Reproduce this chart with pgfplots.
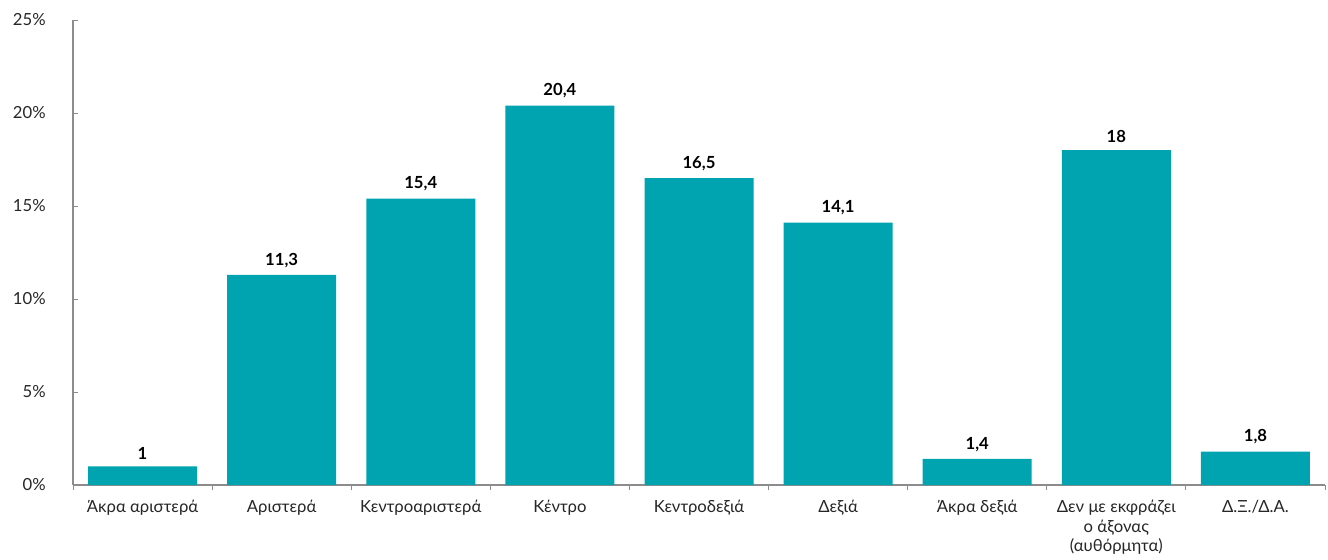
\documentclass[border=0pt]{standalone}
\usepackage{fontspec}
\setmainfont{Lato}
\usepackage{pgfplots}
\pgfplotsset{compat=1.18}
\definecolor{barteal}{HTML}{00A3B0}
\definecolor{axisgrey}{HTML}{8C8C8C}
\begin{document}
\begin{tikzpicture}
\begin{axis}[
    name=ax,
    scale only axis,
    width=939pt, height=348.75pt,
    font=\fontsize{12.5}{14.5}\selectfont,
    ymin=0, ymax=25,
    xmin=-0.5, xmax=8.5,
    ytick={0,5,...,25},
    yticklabel={\pgfmathprintnumber{\tick}\%},
    yticklabel style={xshift=-17pt, text=black!85},
    xtick={0,...,8},
    xticklabels={Άκρα αριστερά, Αριστερά, Κεντροαριστερά, Κέντρο, Κεντροδεξιά, Δεξιά, Άκρα δεξιά, {Δεν με εκφράζει\\ο άξονας\\(αυθόρμητα)}, Δ.Ξ./Δ.Α.},
    xticklabel style={align=center, text=black!85, yshift=-4pt},
    minor xtick={-0.5,0.5,...,8.5},
    major x tick style={draw=none},
    tick style={axisgrey, line width=0.6pt},
    major tick length=4pt,
    minor tick length=4pt,
    tick align=inside,
    axis x line*=bottom,
    axis y line*=left,
    axis line style={axisgrey, line width=0.8pt},
    /pgf/number format/assume math mode=true,
    /pgf/number format/use comma,
    ybar,
    bar width=81.75pt,
    nodes near coords,
    nodes near coords style={font=\fontsize{12.5}{14.5}\selectfont\bfseries, text=black, anchor=south, yshift=2pt,
        /pgf/number format/fixed, /pgf/number format/precision=1},
]
\addplot[fill=barteal, draw=none] coordinates {
    (0,1) (1,11.3) (2,15.4) (3,20.4) (4,16.5) (5,14.1) (6,1.4) (7,18) (8,1.8)
};
\end{axis}
\path (ax.south west) ++(-54.75pt,-55.5pt);
\path (ax.north east) ++(2.25pt,15pt);
\end{tikzpicture}
\end{document}
